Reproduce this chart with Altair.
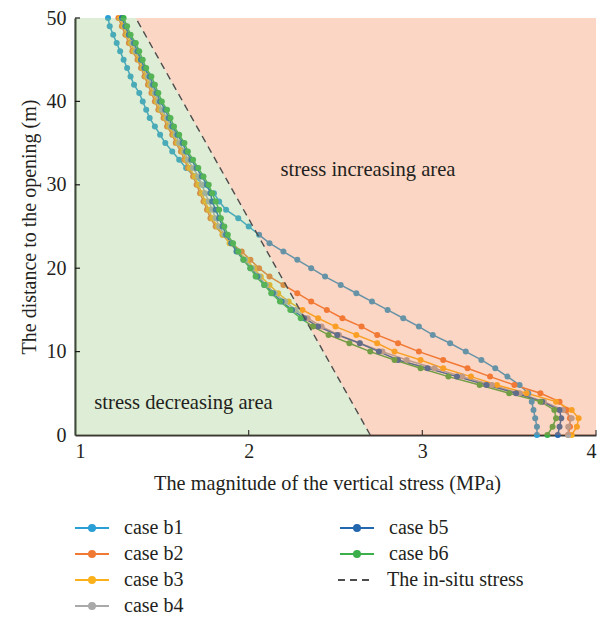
import altair as alt
import pandas as pd

FONT = "Liberation Serif"
TXT = "#231F20"

# ---- data ----
depth = list(range(0, 51))  # distance to the opening (m), sampled every 1 m

case_b1 = [3.66, 3.66, 3.65, 3.64, 3.63, 3.61, 3.56, 3.49, 3.42, 3.34,
           3.25, 3.16, 3.06, 2.98, 2.89, 2.80, 2.71, 2.62, 2.53, 2.44,
           2.36, 2.28, 2.20, 2.12, 2.06, 2.00, 1.94, 1.87, 1.83, 1.80,
           1.74, 1.69, 1.64, 1.60, 1.56, 1.52, 1.49, 1.46, 1.43, 1.41,
           1.39, 1.37, 1.34, 1.32, 1.30, 1.28, 1.26, 1.24, 1.22, 1.20, 1.19]
case_b2 = [3.84, 3.85, 3.85, 3.83, 3.79, 3.68, 3.53, 3.39, 3.26, 3.12,
           2.98, 2.86, 2.74, 2.65, 2.54, 2.45, 2.36, 2.28, 2.20, 2.12,
           2.06, 2.01, 1.96, 1.90, 1.85, 1.81, 1.78, 1.76, 1.74, 1.72,
           1.70, 1.68, 1.65, 1.63, 1.61, 1.58, 1.56, 1.53, 1.51, 1.48,
           1.46, 1.44, 1.42, 1.40, 1.38, 1.36, 1.33, 1.31, 1.29, 1.27, 1.25]
case_b3 = [3.86, 3.89, 3.90, 3.86, 3.77, 3.60, 3.43, 3.28, 3.12, 2.99,
           2.84, 2.74, 2.62, 2.50, 2.40, 2.31, 2.23, 2.17, 2.12, 2.07,
           2.03, 1.99, 1.94, 1.89, 1.85, 1.82, 1.79, 1.77, 1.75, 1.73,
           1.71, 1.69, 1.66, 1.64, 1.62, 1.59, 1.57, 1.54, 1.52, 1.49,
           1.47, 1.45, 1.43, 1.41, 1.39, 1.37, 1.34, 1.32, 1.30, 1.28, 1.26]
case_b4 = [3.84, 3.84, 3.86, 3.81, 3.70, 3.56, 3.40, 3.23, 3.07, 2.91,
           2.77, 2.64, 2.52, 2.42, 2.34, 2.27, 2.21, 2.15, 2.10, 2.06,
           2.02, 1.98, 1.94, 1.90, 1.86, 1.83, 1.81, 1.79, 1.77, 1.75,
           1.73, 1.71, 1.68, 1.65, 1.63, 1.60, 1.58, 1.55, 1.53, 1.50,
           1.48, 1.46, 1.44, 1.42, 1.40, 1.38, 1.35, 1.33, 1.31, 1.29, 1.27]
case_b5 = [3.78, 3.79, 3.80, 3.79, 3.69, 3.54, 3.37, 3.20, 3.03, 2.86,
           2.75, 2.64, 2.51, 2.40, 2.32, 2.25, 2.19, 2.14, 2.09, 2.05,
           2.01, 1.97, 1.93, 1.90, 1.87, 1.85, 1.83, 1.81, 1.79, 1.78,
           1.76, 1.73, 1.70, 1.67, 1.64, 1.62, 1.59, 1.56, 1.54, 1.52,
           1.49, 1.47, 1.45, 1.43, 1.40, 1.38, 1.36, 1.34, 1.31, 1.29, 1.27]
case_b6 = [3.72, 3.75, 3.77, 3.76, 3.68, 3.50, 3.33, 3.15, 2.99, 2.84,
           2.70, 2.58, 2.46, 2.37, 2.30, 2.24, 2.18, 2.13, 2.09, 2.04,
           2.01, 1.97, 1.94, 1.91, 1.88, 1.86, 1.84, 1.83, 1.81, 1.79,
           1.77, 1.74, 1.71, 1.68, 1.65, 1.63, 1.60, 1.57, 1.55, 1.53,
           1.50, 1.48, 1.46, 1.44, 1.41, 1.39, 1.37, 1.35, 1.32, 1.30, 1.28]

insitu_depth = [0, 50]
insitu_stress = [2.70, 1.35]

series_names = ["case b1", "case b2", "case b3", "case b4", "case b5", "case b6"]
series_values = [case_b1, case_b2, case_b3, case_b4, case_b5, case_b6]
INSITU = "The in-situ stress"
BLANK = " "

# legend fills its two columns top to bottom; the blank slot is where the
# in-situ legend entry sits
legend_order = ["case b1", "case b2", "case b3", "case b4", "case b5", "case b6", BLANK]
legend_colors = ["#2A9FD6", "#F07A33", "#FBB11C", "#A9A9A9", "#2367AE", "#3BAF4A", "transparent"]
insitu_color = "#4D4D4D"

x_domain = [1, 4]
y_domain = [0, 50]
x_ticks = [1, 2, 3, 4]
y_ticks = [0, 10, 20, 30, 40, 50]
x_inner_ticks = [2, 3, 4]
y_inner_ticks = [10, 20, 30, 40, 50]

area_labels = ["stress increasing area", "stress decreasing area"]
area_label_x = [2.687, 1.625]
area_label_y = [31.8, 3.84]

# ---- tables ----
rows = []
for name, vals in zip(series_names, series_values):
    for d, v in zip(depth, vals):
        rows.append({"series": name, "depth": d, "stress": v})
df = pd.DataFrame(rows)

df_insitu = pd.DataFrame({"kind": INSITU, "depth": insitu_depth, "stress": insitu_stress})
df_region = pd.DataFrame({"depth": insitu_depth, "stress": insitu_stress,
                          "xmin": x_domain[0], "xmax": x_domain[1]})
df_text = pd.DataFrame({"label": area_labels, "stress": area_label_x, "depth": area_label_y})
df_xt = pd.DataFrame({"stress": x_inner_ticks})
df_yt = pd.DataFrame({"depth": y_inner_ticks})

XT = "The magnitude of the vertical stress (MPa)"
YT = "The distance to the opening (m)"

xscale = alt.Scale(domain=x_domain, nice=False, zero=False)
yscale = alt.Scale(domain=y_domain, nice=False)
xaxis = alt.Axis(values=x_ticks, format="d", grid=False, ticks=False, tickSize=0,
                 labelFont=FONT, labelFontSize=20, labelColor=TXT, labelPadding=6,
                 domainColor="#3B3735", domainWidth=2,
                 titleFont=FONT, titleFontSize=20.3, titleFontWeight="normal",
                 titleColor=TXT, titlePadding=12, titleX=252, titleAlign="center")
yaxis = alt.Axis(values=y_ticks, format="d", grid=False, ticks=False, tickSize=0,
                 labelFont=FONT, labelFontSize=20, labelColor=TXT, labelPadding=9,
                 domainColor="#1A1A1A", domainWidth=2,
                 titleFont=FONT, titleFontSize=20, titleFontWeight="normal",
                 titleColor=TXT, titlePadding=7)


def X(field):
    return alt.X(field, type="quantitative", scale=xscale, axis=xaxis, title=XT)


def Y(field):
    return alt.Y(field, type="quantitative", scale=yscale, axis=yaxis, title=YT)


dot_path = "M-3.4,0L3.4,0M-0.6,0A0.6,0.6,0,1,1,0.6,0A0.6,0.6,0,1,1,-0.6,0Z"
line_path = "M-3.4,0L3.4,0"

LEG_X, LEG_Y, ROW_H, COL_W = 7, 500, 26, 263


def case_legend():
    return alt.Legend(
        title=None, orient="none", legendX=LEG_X, legendY=LEG_Y, columns=2,
        columnPadding=152, rowPadding=6, padding=0,
        symbolSize=100, symbolStrokeWidth=2, symbolType=dot_path, symbolOpacity=1,
        labelFont=FONT, labelFontSize=20, labelColor=TXT, labelOffset=22,
    )


insitu_legend = alt.Legend(
    title=None, orient="none", legendX=LEG_X + COL_W, legendY=LEG_Y + 2 * ROW_H,
    padding=0, symbolSize=100, symbolStrokeWidth=2, symbolType=line_path,
    symbolStrokeColor=insitu_color, symbolOpacity=1,
    labelFont=FONT, labelFontSize=20, labelColor=TXT, labelOffset=22,
)

sscale = alt.Scale(domain=legend_order, range=legend_colors)

lines = alt.Chart(df).mark_line(strokeWidth=1.5).encode(
    x=X("stress"), y=Y("depth"),
    stroke=alt.Stroke("series:N", scale=sscale, legend=case_legend()),
    order=alt.Order("depth:Q"),
)
points = alt.Chart(df).mark_circle(size=36, opacity=1).encode(
    x=X("stress"), y=Y("depth"),
    fill=alt.Fill("series:N", scale=sscale, legend=case_legend()),
)

green = alt.Chart(df_region).mark_area(orient="horizontal", color="#91C373", opacity=0.3).encode(
    y=Y("depth"), x=X("xmin"), x2="stress"
)
pink = alt.Chart(df_region).mark_area(orient="horizontal", color="#F5763A", opacity=0.3).encode(
    y=Y("depth"), x=X("stress"), x2="xmax"
)

insitu = alt.Chart(df_insitu).mark_line(strokeWidth=1.4, color=insitu_color).encode(
    x=X("stress"), y=Y("depth"),
    strokeDash=alt.StrokeDash("kind:N", scale=alt.Scale(domain=[INSITU], range=[[7, 5]]),
                              legend=insitu_legend),
    order=alt.Order("depth:Q"),
)

texts = alt.Chart(df_text).mark_text(
    font=FONT, fontSize=20.6, color=TXT, align="center", baseline="middle"
).encode(x=X("stress"), y=Y("depth"), text="label:N")

xticks = alt.Chart(df_xt).mark_rule(color="#3B3735", strokeWidth=1.2).encode(
    x=X("stress"), y=alt.value(417), y2=alt.value(412)
)
yticks = alt.Chart(df_yt).mark_rule(color="#1A1A1A", strokeWidth=1.2).encode(
    y=Y("depth"), x=alt.value(0), x2=alt.value(5)
)

chart = alt.layer(lines, points, green, pink, insitu, texts, xticks, yticks).properties(
    width=521, height=417,
    autosize=alt.AutoSizeParams(type="none"),
    padding={"left": 75, "top": 18, "right": 7, "bottom": 183},
    background="white",
).configure_view(stroke=None)

chart.save("out.html", embed_options={"renderer": "svg", "actions": False})
